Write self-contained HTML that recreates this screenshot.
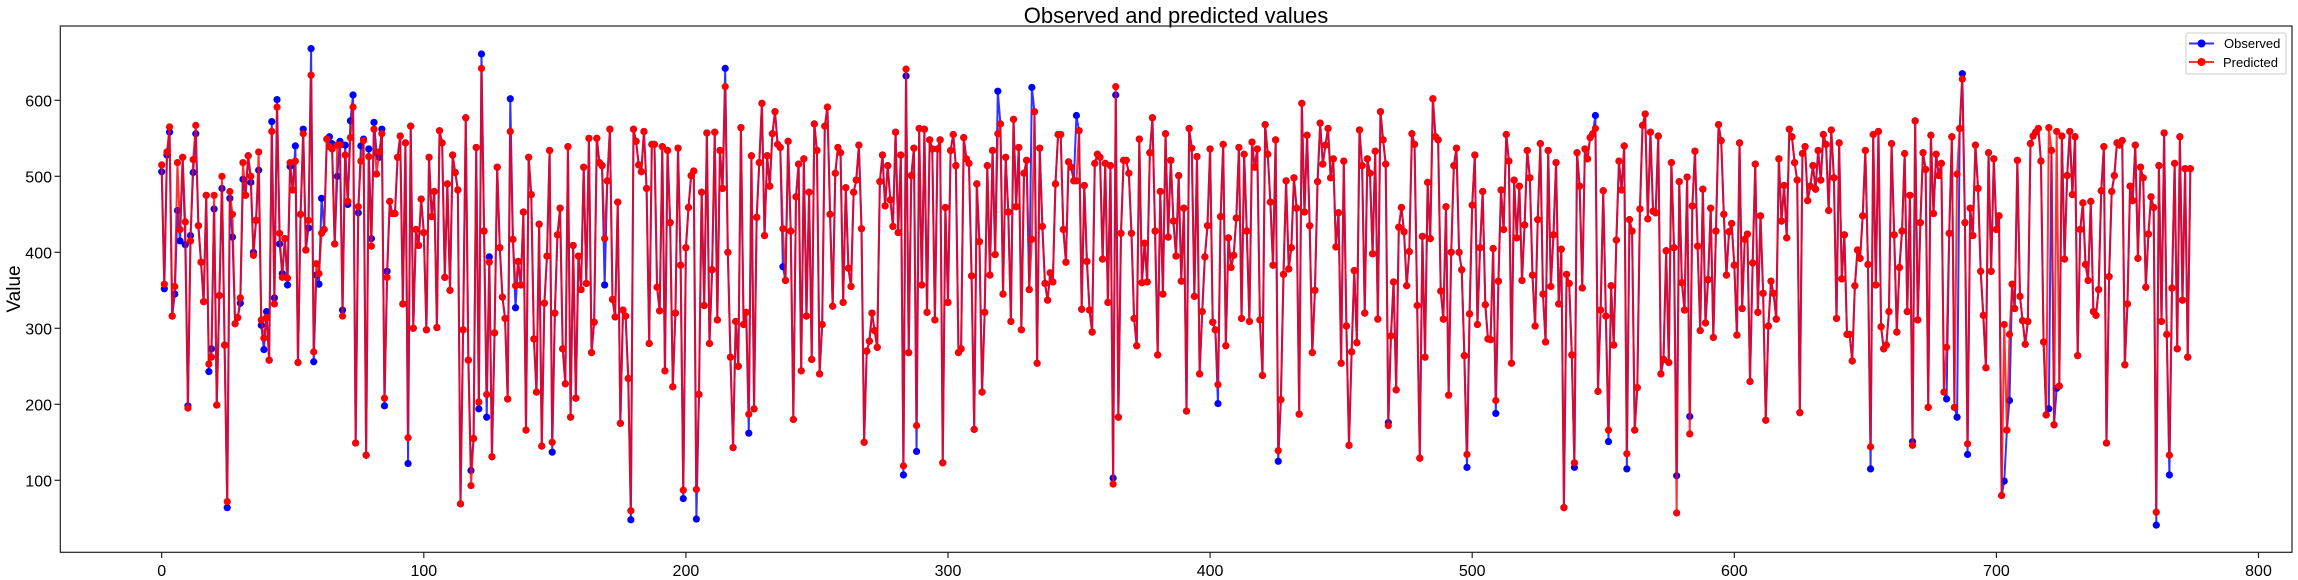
<!DOCTYPE html>
<html>
<head>
<meta charset="utf-8">
<style>
html,body{margin:0;padding:0;background:#fff;}
svg{display:block;font-family:"Liberation Sans",sans-serif;}
</style>
</head>
<body>
<svg id="chart" width="2298" height="580" viewBox="0 0 2298 580" xmlns="http://www.w3.org/2000/svg">
<rect x="0" y="0" width="2298" height="580" fill="#fff"/>
<text x="1176" y="23" font-size="22" text-anchor="middle" fill="#000">Observed and predicted values</text>
<text x="20" y="289" font-size="19" text-anchor="middle" transform="rotate(-90 20 289)" fill="#000">Value</text>
<g id="plot"></g>
<rect x="60.3" y="26" width="2231.7" height="526.3" fill="none" stroke="#222" stroke-width="1.2"/>
<g id="xticks"></g>
<g id="yticks"></g>
<g>
<rect x="2186" y="33" width="100" height="41" rx="2" fill="#fff" fill-opacity="0.8" stroke="#ccc" stroke-width="1"/>
<g>
<line x1="2189" y1="43.5" x2="2214" y2="43.5" stroke="#0000ff" stroke-opacity="0.8" stroke-width="2"/>
<circle cx="2201.5" cy="43.5" r="4" fill="#0000ff"/>
<text x="2224" y="48" font-size="13" fill="#000">Observed</text>
</g>
<g>
<line x1="2189" y1="62" x2="2214" y2="62" stroke="#ff0000" stroke-opacity="0.8" stroke-width="2"/>
<circle cx="2201.5" cy="62" r="4" fill="#ff0000"/>
<text x="2223" y="67" font-size="13" fill="#000">Predicted</text>
</g>
</g>
</svg>
<script>
const xTicks = [0,100,200,300,400,500,600,700,800];
const yTicks = [100,200,300,400,500,600];
const predicted = [
515,358,532,565,316,355,518,430,525,440,195,415,522,567,435,387,335,475,253,262,475,199,343,500,278,72,480,450,306,314,340,518,475,527,500,396,442,532,311,287,314,258,559,332,591,425,367,418,366,518,482,520,255,450,556,403,442,633,269,385,372,425,430,549,539,536,411,541,541,316,528,467,551,591,149,460,520,547,133,526,408,562,503,532,556,208,367,467,451,
451,525,553,332,544,156,566,300,430,409,470,426,298,525,447,480,301,560,544,367,490,350,528,505,482,69,298,577,258,93,155,538,203,642,428,213,387,131,294,512,406,341,313,207,559,417,356,388,357,453,166,525,476,286,216,437,145,333,395,534,150,320,423,458,273,227,539,183,409,208,395,351,512,359,550,268,308,550,518,514,418,494,562,338,315,466,175,324,316,234,60,562,546,515,506,559,484,280,542,542,354,323,539,244,534,439,223,320,537,383,87,406,459,501,507,88,213,479,330,557,280,377,558,311,534,484,618,400,262,143,309,250,564,305,321,187,527,194,446,518,596,422,527,487,556,585,542,538,431,363,546,428,180,473,516,244,523,316,479,259,569,534,240,305,566,591,450,329,504,538,531,334,485,379,355,479,495,541,431,150,270,283,320,297,275,493,528,461,514,469,434,558,426,528,119,641,268,
501,537,172,563,357,562,321,548,536,311,536,548,123,459,334,534,555,514,268,273,551,523,517,369,167,490,414,216,321,514,370,534,397,556,569,345,525,453,309,575,460,538,298,504,521,351,417,585,254,537,434,359,337,373,361,490,555,555,430,387,519,512,494,494,560,325,488,388,324,295,517,529,525,391,517,334,514,95,618,183,425,521,521,504,425,313,277,549,360,412,361,531,577,428,265,480,345,556,420,521,441,395,501,362,458,191,563,537,342,526,240,322,394,435,536,308,298,226,447,542,277,419,380,396,445,538,313,529,428,309,545,512,536,311,238,568,529,466,383,548,139,206,371,494,378,406,498,458,187,596,453,554,435,268,350,493,570,516,541,563,498,523,407,452,254,520,303,146,269,376,281,561,514,320,523,504,398,533,312,585,548,516,172,290,361,219,433,459,427,356,401,556,542,330,129,421,
262,492,418,602,552,548,349,312,460,212,400,514,537,400,377,264,134,319,462,528,305,406,480,331,286,285,405,205,362,482,430,555,520,254,495,419,487,363,436,534,498,370,303,443,543,345,282,534,355,423,518,332,404,64,371,359,265,123,531,487,353,536,523,551,556,563,217,324,481,316,166,356,278,416,520,482,540,135,443,428,166,222,457,567,582,444,558,454,452,553,240,259,402,255,518,406,57,493,360,324,499,161,461,533,408,297,483,307,364,458,288,428,568,547,450,370,427,438,383,291,544,326,417,424,230,386,516,321,448,346,179,303,362,346,312,523,441,488,419,562,552,518,495,189,530,539,468,487,514,483,534,495,555,542,455,561,498,313,544,365,423,292,292,257,356,403,392,448,534,384,144,555,357,559,302,273,278,322,543,423,295,380,428,530,322,475,146,573,311,439,531,509,196,554,451,529,501,
517,216,275,425,552,196,503,563,628,439,148,458,422,541,484,375,317,248,531,375,523,430,448,80,305,166,292,358,326,521,342,310,279,309,543,553,558,563,520,282,186,564,534,173,559,224,553,391,501,559,476,552,264,430,465,384,363,467,322,317,351,481,539,149,368,480,501,544,541,547,252,332,487,468,541,392,512,498,354,424,473,459,58,514,309,557,292,133,353,517,273,552,337,510,262,510
];
const observed = [
506,352,528,558,316,345,455,415,525,410,198,422,505,556,435,387,335,475,243,273,457,199,343,484,278,64,471,420,306,314,333,496,475,527,492,400,442,508,304,272,322,258,572,340,601,411,372,418,357,513,482,540,255,450,562,403,432,668,256,370,358,471,430,549,552,543,411,500,546,324,541,463,573,607,149,452,540,549,133,536,418,571,531,525,562,198,375,467,451,
451,525,553,332,544,122,566,300,430,409,470,426,298,525,447,480,301,560,544,367,490,350,528,505,482,69,298,577,258,113,155,538,194,661,428,183,394,131,294,512,406,341,313,207,602,417,327,388,357,453,166,525,476,286,216,437,145,333,395,534,137,320,423,458,273,227,539,183,409,208,395,351,512,359,550,268,308,550,518,514,357,494,562,338,315,466,175,324,316,234,48,562,546,515,506,559,484,280,542,542,354,323,539,244,534,439,223,320,537,383,76,406,459,501,507,49,213,479,330,557,280,377,558,311,534,484,642,400,262,143,309,250,564,305,321,162,527,194,446,518,596,422,527,487,556,585,542,538,381,363,546,428,180,473,516,244,523,316,479,259,569,534,240,305,566,591,450,329,504,538,531,334,485,379,355,479,495,541,431,150,270,283,320,297,275,493,528,461,514,469,434,558,426,528,107,632,268,
501,537,138,563,357,562,321,548,536,311,536,548,123,459,334,534,555,514,268,273,551,523,517,369,167,490,414,216,321,514,370,534,397,612,569,345,525,453,309,575,460,538,298,504,521,351,617,585,254,537,434,359,337,373,361,490,555,555,430,387,519,512,494,580,560,325,488,388,324,295,517,529,525,391,517,334,514,103,607,183,425,521,521,504,425,313,277,549,360,412,361,531,577,428,265,480,345,556,420,521,441,395,501,362,458,191,563,537,342,526,240,322,394,435,536,308,298,201,447,542,277,419,380,396,445,538,313,529,428,309,545,512,536,311,238,568,529,466,383,548,125,206,371,494,378,406,498,458,187,596,453,554,435,268,350,493,570,516,541,563,498,523,407,452,254,520,303,146,269,376,281,561,514,320,523,504,398,533,312,585,548,516,176,290,361,219,433,459,427,356,401,556,542,330,129,421,
262,492,418,602,552,548,349,312,460,212,400,514,537,400,377,264,117,319,462,528,305,406,480,331,286,285,405,188,362,482,430,555,520,254,495,419,487,363,436,534,498,370,303,443,543,345,282,534,355,423,518,332,404,64,371,359,265,117,531,487,353,536,523,551,556,580,217,324,481,316,151,356,278,416,520,482,540,115,443,428,166,222,457,567,582,444,558,454,452,553,240,259,402,255,518,406,106,493,360,324,499,184,461,533,408,297,483,307,364,458,288,428,568,547,450,370,427,438,383,291,544,326,417,424,230,386,516,321,448,346,179,303,362,346,312,523,441,488,419,562,552,518,495,189,530,539,468,487,514,483,534,495,555,542,455,561,498,313,544,365,423,292,292,257,356,403,392,448,534,384,115,555,357,559,302,273,278,322,543,423,295,380,428,530,322,475,151,573,311,439,531,509,196,554,451,529,501,
517,216,207,425,552,196,183,563,635,439,134,458,422,541,484,375,317,248,531,375,523,430,448,80,99,166,205,358,326,521,342,310,279,309,543,553,558,563,520,282,186,194,534,173,221,224,553,391,501,559,476,552,264,430,465,384,363,467,322,317,351,481,539,149,368,480,501,544,541,547,252,332,487,468,541,392,512,498,354,424,473,459,41,514,309,557,292,107,353,517,273,552,337,510,262,510
];

const X0 = 161.7, XS = 2.621, Y0 = 556.3, YS = 0.76;
function xPos(i){ return X0 + i * XS; }
function yPos(v){ return Y0 - v * YS; }
const NS = "http://www.w3.org/2000/svg";
const plot = document.getElementById('plot');
const xg = document.getElementById('xticks');
const yg = document.getElementById('yticks');

xTicks.forEach(function(t){
  const x = xPos(t);
  const tk = document.createElementNS(NS,'line');
  tk.setAttribute('x1',x); tk.setAttribute('x2',x);
  tk.setAttribute('y1',552.3); tk.setAttribute('y2',558);
  tk.setAttribute('stroke','#222'); tk.setAttribute('stroke-width','1.2');
  
  
  xg.appendChild(tk);
  const lb = document.createElementNS(NS,'text');
  lb.setAttribute('x',x); lb.setAttribute('y',576);
  lb.setAttribute('font-size','16'); lb.setAttribute('text-anchor','middle');
  lb.textContent = t;
  
  
  xg.appendChild(lb);
});
yTicks.forEach(function(t){
  const y = yPos(t);
  const tk = document.createElementNS(NS,'line');
  tk.setAttribute('x1',54.5); tk.setAttribute('x2',60.3);
  tk.setAttribute('y1',y); tk.setAttribute('y2',y);
  tk.setAttribute('stroke','#222'); tk.setAttribute('stroke-width','1.2');
  
  
  yg.appendChild(tk);
  const lb = document.createElementNS(NS,'text');
  lb.setAttribute('x',52); lb.setAttribute('y',y+6);
  lb.setAttribute('font-size','16'); lb.setAttribute('text-anchor','end');
  lb.textContent = t;
  
  
  yg.appendChild(lb);
});

function drawSeries(vals, color, name){
  const g = document.createElementNS(NS,'g');
  
  
  let d = '';
  vals.forEach(function(v,i){ d += (i ? 'L' : 'M') + xPos(i).toFixed(2) + ' ' + yPos(v).toFixed(2); });
  const p = document.createElementNS(NS,'path');
  p.setAttribute('d', d);
  p.setAttribute('fill','none'); p.setAttribute('stroke',color);
  p.setAttribute('stroke-opacity','0.8'); p.setAttribute('stroke-width','2');
  p.setAttribute('stroke-linejoin','round');
  
  
  g.appendChild(p);
  vals.forEach(function(v,i){
    const c = document.createElementNS(NS,'circle');
    c.setAttribute('cx', xPos(i).toFixed(2)); c.setAttribute('cy', yPos(v).toFixed(2));
    c.setAttribute('r','3.6'); c.setAttribute('fill',color);
    
    
    g.appendChild(c);
  });
  plot.appendChild(g);
}
drawSeries(observed, '#0000ff', 'observed');
drawSeries(predicted, '#ff0000', 'predicted');
</script>
</body>
</html>
